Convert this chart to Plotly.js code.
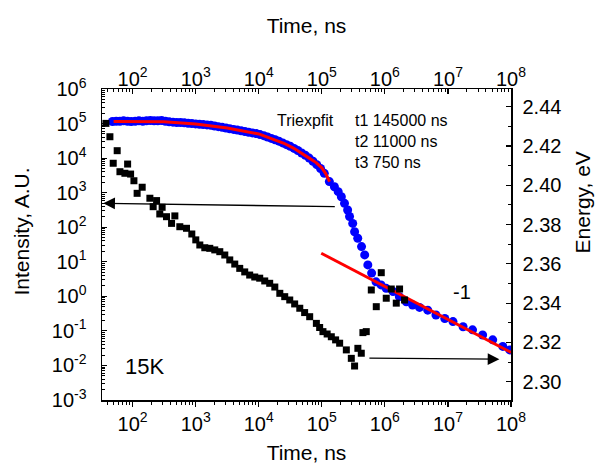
<!DOCTYPE html>
<html><head><meta charset="utf-8">
<script src="https://cdn.plot.ly/plotly-3.0.1.min.js"></script>
<style>html,body{margin:0;padding:0;background:#fff}</style>
</head><body><div id="chart" style="width:596px;height:464px"></div>
<script>
// ---- data ----
const blueTime = [48,55,63,72,83,95,110,126,145,166,191,219,251,288,331,380,437,501,575,661,759,871,1000,1148,1318,1514,1738,1995,2291,2630,3020,3467,3981,4571,5248,6026,6918,7943,9120,10470,12020,13800,15850,18200,20890,23990,27540,31620,36310,41690,47860,54950,63100,72440,83180,95500,109600,
  131800,158500,182000,204200,229100,257000,275400,309000,331100,371500,426600,478600,537000,616600,724400,871000,1047000,1349000,1698000,2188000,2754000,3548000,4786000,6457000,8913000,12020000,17380000,24550000,35480000,51290000,74130000,95500000];
const blueIntensity = [1.15e5,1.17e5,1.17e5,1.20e5,1.17e5,1.15e5,1.17e5,1.20e5,1.17e5,1.20e5,1.23e5,1.20e5,1.20e5,1.23e5,1.17e5,1.12e5,1.10e5,1.07e5,1.07e5,1.05e5,1.02e5,1.00e5,9.77e4,9.55e4,9.33e4,9.12e4,8.91e4,8.51e4,8.13e4,7.76e4,7.41e4,7.08e4,6.76e4,6.46e4,6.17e4,5.89e4,5.62e4,5.37e4,5.13e4,4.79e4,4.47e4,4.07e4,3.72e4,3.39e4,3.09e4,2.75e4,2.45e4,2.19e4,1.91e4,1.66e4,1.41e4,1.20e4,1.00e4,8.13e3,6.46e3,5.01e3,3.63e3,
  2.09e3,1.48e3,1.07e3,759,490,316,204,129,74,48,27.5,15.8,8.1,4.7,2.63,2.14,1.70,1.38,0.977,0.692,0.562,0.479,0.398,0.288,0.229,0.186,0.132,0.107,0.0759,0.0550,0.0355,0.0282];

const fitTime = [50,100,316,1000,3162,10000,15850,25120,35480,50120,63100,81280,100000,114800,133000];
const fitIntensity = [1.15e5,1.16e5,1.12e5,9.77e4,7.41e4,5.01e4,3.72e4,2.69e4,1.95e4,1.35e4,1.0e4,7.41e3,5.25e3,3.63e3,2.09e3];

const powerTime = [98000, 1e8];
const powerIntensity = [17.6, 0.0238];

const energyTime = [37.8,43.7,49.3,57,63,75.5,83.4,93,105,118,142,188,212,240,270,294,345,415,468,561,716,869,1005,1164,1396,1675,2009,2414,2897,3475,4170,5000,6000,7190,8650,10370,12450,14930,17990,21590,25840,31040,37150,44770,53460,64270,82040,92470,104300,121600,141600,165600,191900,244900,293800,331100,373300,422700,448700,507000,609500,731000,877000,1052000,1262000,1517000,1711000,2051000];
const energyValue = [2.4315,2.4247,2.4112,2.4176,2.4069,2.4061,2.4108,2.4057,2.4023,2.3959,2.3990,2.3934,2.3891,2.3922,2.3854,2.3888,2.3840,2.3806,2.3844,2.3789,2.3781,2.3752,2.3722,2.3696,2.3682,2.3679,2.3671,2.3662,2.3645,2.3620,2.3599,2.3577,2.3559,2.3543,2.3533,2.3527,2.3513,2.3501,2.3482,2.3450,2.3433,2.3416,2.3396,2.3374,2.3352,2.3331,2.3297,2.3276,2.3255,2.3243,2.3229,2.3213,2.3196,2.3162,2.3119,2.3080,2.3170,2.3145,2.3250,2.3255,2.3467,2.3382,2.3555,2.3425,2.3472,2.3400,2.3472,2.3416];

const xTickVals = [1e2,1e3,1e4,1e5,1e6,1e7,1e8];
const xTickText = ['10<sup>2</sup>','10<sup>3</sup>','10<sup>4</sup>','10<sup>5</sup>','10<sup>6</sup>','10<sup>7</sup>','10<sup>8</sup>'];
const yTickVals = [1e-3,1e-2,1e-1,1e0,1e1,1e2,1e3,1e4,1e5,1e6];
const yTickText = ['10<sup>-3</sup>','10<sup>-2</sup>','10<sup>-1</sup>','10<sup>0</sup>','10<sup>1</sup>','10<sup>2</sup>','10<sup>3</sup>','10<sup>4</sup>','10<sup>5</sup>','10<sup>6</sup>'];
const eTickVals = [2.30,2.32,2.34,2.36,2.38,2.40,2.42,2.44];
const eTickText = ['2.30','2.32','2.34','2.36','2.38','2.40','2.42','2.44'];
const fitLabels = ['Triexpfit','t1 145000 ns','t2 11000 ns','t3 750 ns'];

// ---- minor tick positions (2..9 per decade) ----
function minorLog(lo, hi){ const v=[]; for(let e=lo;e<hi;e++){ for(let m=2;m<=9;m++){ v.push(m*Math.pow(10,e)); } } return v; }

const FONT = 'Arial, "Liberation Sans", sans-serif';
const XR = [1.515, 8];

const traces = [
  {x: blueTime, y: blueIntensity, xaxis:'x', yaxis:'y', mode:'markers', type:'scatter',
   marker:{symbol:'circle', size:9, color:'#0000ff'}, hoverinfo:'skip'},
  {x: fitTime, y: fitIntensity, xaxis:'x', yaxis:'y', mode:'lines', type:'scatter',
   line:{color:'#ff0000', width:3}, hoverinfo:'skip'},
  {x: powerTime, y: powerIntensity, xaxis:'x', yaxis:'y', mode:'lines', type:'scatter',
   line:{color:'#ff0000', width:3}, hoverinfo:'skip'},
  // energy on the right axis; plotted against the top time axis (same range as bottom)
  {x: energyTime, y: energyValue, xaxis:'x2', yaxis:'y2', mode:'markers', type:'scatter',
   marker:{symbol:'square', size:7, color:'#000000'}, hoverinfo:'skip'}
];

const axisCommon = {showgrid:false, zeroline:false, showline:true, linecolor:'#000', linewidth:1.5,
  tickcolor:'#000', tickwidth:1.2, tickfont:{family:FONT, size:20, color:'#000'}};

const layout = {
  width:596, height:464, showlegend:false,
  paper_bgcolor:'#fff', plot_bgcolor:'#fff',
  font:{family:FONT, color:'#000'},
  margin:{l:102, r:85, t:89, b:64},
  xaxis: Object.assign({}, axisCommon, {type:'log', range:XR, anchor:'y', side:'bottom',
    tickmode:'array', tickvals:xTickVals, ticktext:xTickText, ticks:'outside', ticklen:5,
    minor:{tickmode:'array', tickvals:minorLog(1,8), ticks:'outside', ticklen:3, tickwidth:1, tickcolor:'#000', showgrid:false},
    title:{text:'Time, ns', font:{family:FONT, size:21, color:'#000'}, standoff:14}}),
  xaxis2: Object.assign({}, axisCommon, {type:'log', range:XR, overlaying:'x', anchor:'y2', side:'top',
    tickmode:'array', tickvals:xTickVals, ticktext:xTickText, ticks:'inside', ticklen:5, ticklabelstandoff:-6,
    minor:{tickmode:'array', tickvals:minorLog(1,8), ticks:'inside', ticklen:3, tickwidth:1, tickcolor:'#000', showgrid:false},
    title:{text:'Time, ns', font:{family:FONT, size:21, color:'#000'}, standoff:24}}),
  yaxis: Object.assign({}, axisCommon, {type:'log', range:[-3,6], anchor:'x', side:'left',
    tickmode:'array', tickvals:yTickVals, ticktext:yTickText, ticks:'inside', ticklen:5, ticklabelstandoff:10,
    minor:{tickmode:'array', tickvals:minorLog(-3,6), ticks:'inside', ticklen:3, tickwidth:1, tickcolor:'#000', showgrid:false}}),
  yaxis2: Object.assign({}, axisCommon, {type:'linear', range:[2.2907, 2.449], overlaying:'y', anchor:'x2', side:'right',
    tickmode:'array', tickvals:eTickVals, ticktext:eTickText, ticks:'inside', ticklen:5, ticklabelstandoff:6,
    minor:{dtick:0.01, tick0:2.29, ticks:'inside', ticklen:3, tickwidth:1, tickcolor:'#000', showgrid:false}}),
  annotations: [
    {xref:'paper', yref:'paper', x:-0.1956, y:0.5418, text:'Intensity, A.U.', textangle:-90, showarrow:false,
     xanchor:'center', yanchor:'middle', font:{family:FONT, size:21, color:'#000'}},
    {xref:'paper', yref:'paper', x:1.1748, y:0.6367, text:'Energy, eV', textangle:-90, showarrow:false,
     xanchor:'center', yanchor:'middle', font:{family:FONT, size:21, color:'#000'}},
    {xref:'x', yref:'y', x:4.253, y:5.103, text:fitLabels[0], showarrow:false, xanchor:'left', yanchor:'middle',
     font:{family:FONT, size:16, color:'#000'}},
    {xref:'x', yref:'y', x:5.493, y:5.103, text:fitLabels[1], showarrow:false, xanchor:'left', yanchor:'middle',
     font:{family:FONT, size:16, color:'#000'}},
    {xref:'x', yref:'y', x:5.493, y:4.495, text:fitLabels[2], showarrow:false, xanchor:'left', yanchor:'middle',
     font:{family:FONT, size:16, color:'#000'}},
    {xref:'x', yref:'y', x:5.493, y:3.867, text:fitLabels[3], showarrow:false, xanchor:'left', yanchor:'middle',
     font:{family:FONT, size:16, color:'#000'}},
    {xref:'x', yref:'y', x:1.851, y:-2.035, text:'15K', showarrow:false, xanchor:'left', yanchor:'middle',
     font:{family:FONT, size:22, color:'#000'}},
    {xref:'x', yref:'y', x:7.051, y:0.135, text:'-1', showarrow:false, xanchor:'left', yanchor:'middle',
     font:{family:FONT, size:20, color:'#000'}},
    {xref:'x', yref:'y', axref:'x', ayref:'y', x:1.535, y:2.693, ax:5.23, ay:2.594, text:'', showarrow:true,
     arrowhead:2, arrowsize:1.8, arrowwidth:1.3, arrowcolor:'#000'},
    {xref:'x', yref:'y', axref:'x', ayref:'y', x:7.816, y:-1.82, ax:5.731, ay:-1.79, text:'', showarrow:true,
     arrowhead:2, arrowsize:1.8, arrowwidth:1.3, arrowcolor:'#000'}
  ]
};

Plotly.newPlot('chart', traces, layout, {displayModeBar:false, staticPlot:true});
</script></body></html>
